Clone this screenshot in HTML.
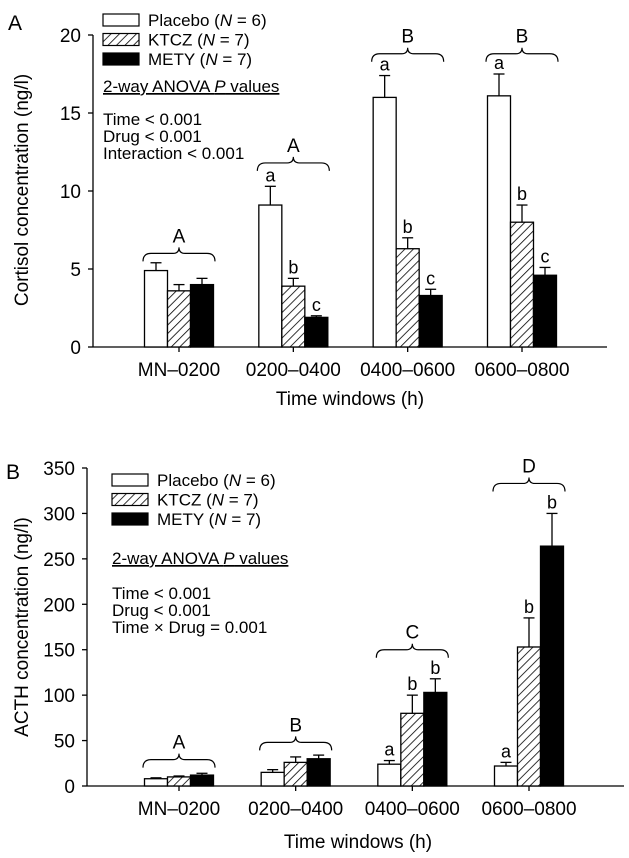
<!DOCTYPE html>
<html><head><meta charset="utf-8"><style>
body{margin:0;background:#fff}
svg{display:block;font-family:"Liberation Sans",sans-serif}
</style></head><body>
<svg id="chart" width="629" height="858" viewBox="0 0 629 858">
<defs>
<pattern id="hatch" patternUnits="userSpaceOnUse" width="6" height="6" patternTransform="rotate(45)">
<rect width="6" height="6" fill="#fff"/><line x1="0" y1="0" x2="0" y2="6" stroke="#000" stroke-width="1.6"/>
</pattern>
</defs>
<g id="root"></g>
</svg>
<script>
const categories = ["MN\u20130200","0200\u20130400","0400\u20130600","0600\u20130800"];
const seriesNames = ["Placebo","KTCZ","METY"];
const seriesN = [6,7,7];
// Panel A (cortisol)
const aPlacebo = [4.9, 9.1, 16.0, 16.1];
const aPlaceboErr = [5.4, 10.3, 17.4, 17.5];
const aKtcz = [3.6, 3.9, 6.3, 8.0];
const aKtczErr = [4.0, 4.4, 7.0, 9.1];
const aMety = [4.0, 1.9, 3.3, 4.6];
const aMetyErr = [4.4, 2.0, 3.7, 5.1];
const aLetters = [["","",""],["a","b","c"],["a","b","c"],["a","b","c"]];
const aBraceLabels = ["A","A","B","B"];
const aBraceLevel = [6.0, 11.8, 18.8, 18.8];
const aTicks = [0,5,10,15,20];
// Panel B (ACTH)
const bPlacebo = [8, 15, 24, 22];
const bPlaceboErr = [9, 18, 28, 26];
const bKtcz = [10, 26, 80, 153];
const bKtczErr = [11, 32, 100, 185];
const bMety = [12, 30, 103, 264];
const bMetyErr = [14, 34, 118, 300];
const bLetters = [["","",""],["","",""],["a","b","b"],["a","b","b"]];
const bBraceLabels = ["A","B","C","D"];
const bBraceLevel = [29, 48, 150, 333];
const bTicks = [0,50,100,150,200,250,300,350];

const NS="http://www.w3.org/2000/svg";
const root=document.getElementById('root');
function mk(tag,attrs,parent,text){const e=document.createElementNS(NS,tag);for(const k in attrs)e.setAttribute(k,attrs[k]);if(text!==undefined)e.textContent=text;(parent||root).appendChild(e);return e;}

function panel(cfg){
  const g=mk('g',{});
  
  
  const y=v=>cfg.y0+(cfg.y1-cfg.y0)*(v/cfg.max);
  const x=i=>cfg.centers[0]+i*(cfg.centers[3]-cfg.centers[0])/3;
  const ax=mk('line',{x1:cfg.ax,y1:cfg.y1,x2:cfg.ax,y2:cfg.y0,stroke:'#000','stroke-width':1.3},g);
  
  
  const xa=mk('line',{x1:cfg.ax,y1:cfg.y0,x2:cfg.xend,y2:cfg.y0,stroke:'#000','stroke-width':1.3},g);
  
  
  cfg.ticks.forEach(t=>{
    mk('line',{x1:cfg.ax-5,y1:y(t),x2:cfg.ax,y2:y(t),stroke:'#000','stroke-width':1.3},g);
    const tl=mk('text',{x:cfg.ax-12,y:y(t)+7,'text-anchor':'end','font-size':19},g,String(t));
    
    
  });
  const series=[cfg.p,cfg.k,cfg.m], errs=[cfg.pe,cfg.ke,cfg.me], fills=['#fff','url(#hatch)','#000'];
  categories.forEach((c,i)=>{
    const cx=x(i);
    mk('line',{x1:cx,y1:cfg.y0,x2:cx,y2:cfg.y0+5,stroke:'#000','stroke-width':1.3},g);
    const cl=mk('text',{x:cx,y:cfg.catY,'text-anchor':'middle','font-size':19},g,c);
    
    
    for(let s=0;s<3;s++){
      const bx=cx-34.5+s*23, top=y(series[s][i]), et=y(errs[s][i]);
      mk('line',{x1:bx+11.5,y1:top,x2:bx+11.5,y2:et,stroke:'#000','stroke-width':1.3},g);
      mk('line',{x1:bx+6,y1:et,x2:bx+17,y2:et,stroke:'#000','stroke-width':1.3},g);
      const r=mk('rect',{x:bx,y:top,width:23,height:cfg.y0-top,fill:fills[s],stroke:'#000','stroke-width':1.3},g);
      
      
      const L=cfg.letters[i][s];
      if(L){const lt=mk('text',{x:bx+11.5,y:et-5,'text-anchor':'middle','font-size':18},g,L);
        
        }
    }
    const by=y(cfg.brace[i]), l=cx-36, r2=cx+36;
    const br=mk('path',{d:`M${l},${by+8} Q${l},${by} ${l+8},${by} L${cx-6},${by} Q${cx},${by} ${cx},${by-6} Q${cx},${by} ${cx+6},${by} L${r2-8},${by} Q${r2},${by} ${r2},${by+8}`,fill:'none',stroke:'#000','stroke-width':1.2},g);
    
    
    const bl=mk('text',{x:cx,y:by-11,'text-anchor':'middle','font-size':19},g,cfg.braceLabels[i]);
    
    
  });
  seriesNames.forEach((n,s)=>{
    const ly=cfg.legY+s*19.5;
    const lr=mk('rect',{x:cfg.legX,y:ly-6,width:36,height:12,fill:fills[s],stroke:'#000','stroke-width':1.2},g);
    
    
    const t=mk('text',{x:cfg.legX+45,y:ly+6,'font-size':17},g);
    
    
    t.innerHTML=n+' (<tspan font-style="italic">N</tspan> = '+seriesN[s]+')';
  });
  const an=mk('text',{x:cfg.legX,y:cfg.anovaY+6,'font-size':17,'text-decoration':'underline'},g);
  an.innerHTML='2-way ANOVA <tspan font-style="italic">P</tspan> values';
  
  
  cfg.stats.forEach((s,j)=>{const st=mk('text',{x:cfg.legX,y:cfg.statY+6+j*17,'font-size':17},g,s);
    
    });
  const yt=mk('text',{x:0,y:0,'font-size':19,'text-anchor':'middle',transform:`translate(28,${cfg.ytY}) rotate(-90)`},g,cfg.ytitle);
  
  
  const xt=mk('text',{x:cfg.xtX,y:cfg.xtY,'font-size':19,'text-anchor':'middle'},g,'Time windows (h)');
  
  
  const pl=mk('text',{x:cfg.plX,y:cfg.plY,'font-size':21},g,cfg.label);
  
  
}
panel({name:'panel-a-cortisol',max:20,y0:347,y1:35,ax:93,xend:607,centers:[179,293,407,522],ticks:aTicks,
  p:aPlacebo,pe:aPlaceboErr,k:aKtcz,ke:aKtczErr,m:aMety,me:aMetyErr,letters:aLetters,brace:aBraceLevel,braceLabels:aBraceLabels,
  catY:376,legX:103,legY:20,anovaY:86,statY:119,stats:['Time < 0.001','Drug < 0.001','Interaction < 0.001'],
  ytitle:'Cortisol concentration (ng/l)',ytY:190,xtX:350,xtY:405,label:'A',plX:8,plY:30});
panel({name:'panel-b-acth',max:350,y0:786,y1:468,ax:87,xend:624,centers:[179,294,412,529],ticks:bTicks,
  p:bPlacebo,pe:bPlaceboErr,k:bKtcz,ke:bKtczErr,m:bMety,me:bMetyErr,letters:bLetters,brace:bBraceLevel,braceLabels:bBraceLabels,
  catY:815,legX:112,legY:480,anovaY:558,statY:593,stats:['Time < 0.001','Drug < 0.001','Time \u00d7 Drug = 0.001'],
  ytitle:'ACTH concentration (ng/l)',ytY:627,xtX:358,xtY:848,label:'B',plX:6,plY:479});
</script>
</body></html>
